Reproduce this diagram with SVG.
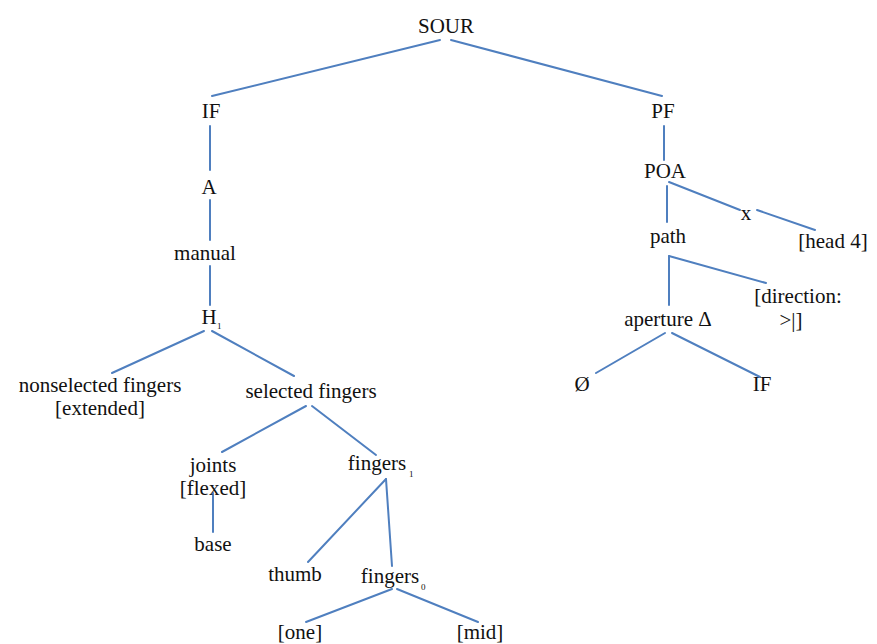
<svg xmlns="http://www.w3.org/2000/svg" width="877" height="644" viewBox="0 0 877 644">
  <style>
    .edge { stroke: #4f7fbf; stroke-width: 2; fill: none; stroke-linecap: round; }
    text { font-family: "Liberation Serif", "Times New Roman", serif; font-size: 21px; fill: #111; text-anchor: middle; }
    .sub { font-size: 9px; text-anchor: start; }
  </style>
  <rect width="877" height="644" fill="#ffffff"/>

  <g id="connectors">
    <!-- left branch -->
    <path class="edge" d="M440 40 L212 96"/>
    <path class="edge" d="M451 40 L662 96"/>
    <path class="edge" d="M210 126 L210 170"/>
    <path class="edge" d="M210 200 L210 240"/>
    <path class="edge" d="M210 266 L210 305"/>
    <path class="edge" d="M204 331 L112 373"/>
    <path class="edge" d="M212 331 L294 376"/>
    <path class="edge" d="M306 406 L222 452"/>
    <path class="edge" d="M312 406 L376 455"/>
    <path class="edge" d="M213 493 L213 532"/>
    <path class="edge" d="M386 479 L308 562"/>
    <path class="edge" d="M386 479 L392 566"/>
    <path class="edge" d="M392 589 L306 622"/>
    <path class="edge" d="M397 589 L478 622"/>
    <!-- right branch -->
    <path class="edge" d="M664 126 L664 160"/>
    <path class="edge" d="M667 186 L667 222"/>
    <path class="edge" d="M669 182 L740 210"/>
    <path class="edge" d="M757 210 L815 230"/>
    <path class="edge" d="M669 256 L766 283"/>
    <path class="edge" d="M669 256 L669 305"/>
    <path class="edge" d="M665 333 L596 373"/>
    <path class="edge" d="M672 333 L760 377"/>
  </g>

  <g id="n-sour"><text x="446" y="33">SOUR</text></g>
  <g id="n-if"><text x="211" y="118">IF</text></g>
  <g id="n-pf"><text x="663" y="118">PF</text></g>
  <g id="n-a"><text x="209" y="194">A</text></g>
  <g id="n-manual"><text x="205" y="260">manual</text></g>
  <g id="n-h"><text x="209" y="324">H</text><text class="sub" x="217" y="329">1</text></g>
  <g id="n-nonselected">
    <text x="100" y="392">nonselected fingers</text>
    <text x="100" y="415">[extended]</text>
  </g>
  <g id="n-selected"><text x="311" y="398">selected fingers</text></g>
  <g id="n-joints">
    <text x="213" y="472">joints</text>
    <text x="213" y="495">[flexed]</text>
  </g>
  <g id="n-fingers1"><text x="377" y="470">fingers</text><text class="sub" x="409" y="477">1</text></g>
  <g id="n-base"><text x="213" y="551">base</text></g>
  <g id="n-thumb"><text x="295" y="581">thumb</text></g>
  <g id="n-fingers0"><text x="390" y="583">fingers</text><text class="sub" x="421" y="590">0</text></g>
  <g id="n-one"><text x="300" y="639">[one]</text></g>
  <g id="n-mid"><text x="480" y="639">[mid]</text></g>

  <g id="n-poa"><text x="665" y="178">POA</text></g>
  <g id="n-x"><text x="746" y="220">x</text></g>
  <g id="n-head"><text x="833" y="248">[head 4]</text></g>
  <g id="n-path"><text x="668" y="243">path</text></g>
  <g id="n-direction">
    <text x="798" y="303">[direction:</text>
    <text x="791" y="327">&gt;|]</text>
  </g>
  <g id="n-aperture"><text x="668" y="326">aperture Δ</text></g>
  <g id="n-null"><text x="582" y="391">Ø</text></g>
  <g id="n-if2"><text x="762" y="391">IF</text></g>
</svg>
